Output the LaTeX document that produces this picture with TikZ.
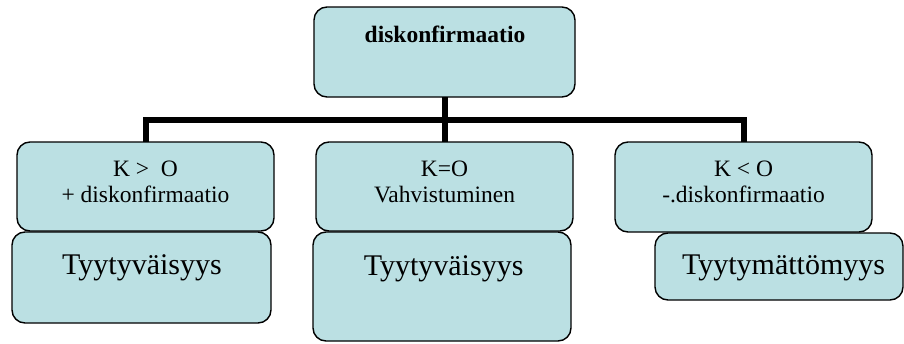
\documentclass[tikz,border=0pt]{standalone}
\usepackage{fontspec}
\setmainfont{Liberation Serif}
\newfontfamily\timesfam{Liberation Serif}
\definecolor{boxfill}{HTML}{BBE0E3}
\tikzset{
  x=1pt, y=-1pt,
  card/.style={draw=black, line width=1.4pt, fill=boxfill, rounded corners=13pt,
    inner sep=0pt, outer sep=0pt, anchor=north west},
  small/.style={font=\timesfam\fontsize{23.5}{26}\selectfont, anchor=base, inner sep=0pt, align=center},
  bigtxt/.style={font=\timesfam\fontsize{30}{34}\selectfont, anchor=base, inner sep=0pt},
  conn/.style={line width=6pt, line join=miter, line cap=butt},
}
\begin{document}
\begin{tikzpicture}
\clip (0,0) rectangle (904,343);

% top box
\node[card, minimum width=261pt, minimum height=90pt] (top) at (314,7) {};
\node[small, font=\timesfam\fontsize{23.5}{26}\selectfont\bfseries] (toptxt) at (445,42.7) {diskonfirmaatio};

% child box corners and the bus line
\path (17,142) coordinate (c1nw) (316,142) coordinate (c2nw) (615,142) coordinate (c3nw);
\coordinate (bus) at (445,119.7);
\coordinate (c1n) at (145.5,142);
\coordinate (c2n) at (444.5,142);
\coordinate (c3n) at (743.5,142);

% connectors
\draw[conn] (top.south) -- (top.south |- bus);
\draw[conn] (c1n) -- (c1n |- bus) -- (c3n |- bus) -- (c3n);
\draw[conn] (c2n) -- (c2n |- bus);

% lower boxes
\node[card, minimum width=259pt, minimum height=91pt] (b1) at (12,232) {};
\node[card, minimum width=258pt, minimum height=109pt] (b2) at (313,232) {};
\node[card, minimum width=248pt, minimum height=67pt] (b3) at (655,233) {};

% upper child boxes
\node[card, minimum width=257pt, minimum height=89pt] (c1) at (c1nw) {};
\node[card, minimum width=257pt, minimum height=89pt] (c2) at (c2nw) {};
\node[card, minimum width=257pt, minimum height=90pt] (c3) at (c3nw) {};

% texts
\node[small] (c1a) at (145.5,176.7) {K >\ \ O};
\node[small] (c1b) at (145.5,202.7) {+ diskonfirmaatio};
\node[small] (c2a) at (444.5,176.7) {K=O};
\node[small] (c2b) at (444.5,202.7) {Vahvistuminen};
\node[small] (c3a) at (743.5,176.7) {K < O};
\node[small] (c3b) at (743.5,202.7) {-.diskonfirmaatio};

\node[bigtxt] (b1t) at (142,274) {Tyytyväisyys};
\node[bigtxt] (b2t) at (443.6,275) {Tyytyväisyys};
\node[bigtxt] (b3t) at (783.5,274) {Tyytymättömyys};
\end{tikzpicture}
\end{document}
